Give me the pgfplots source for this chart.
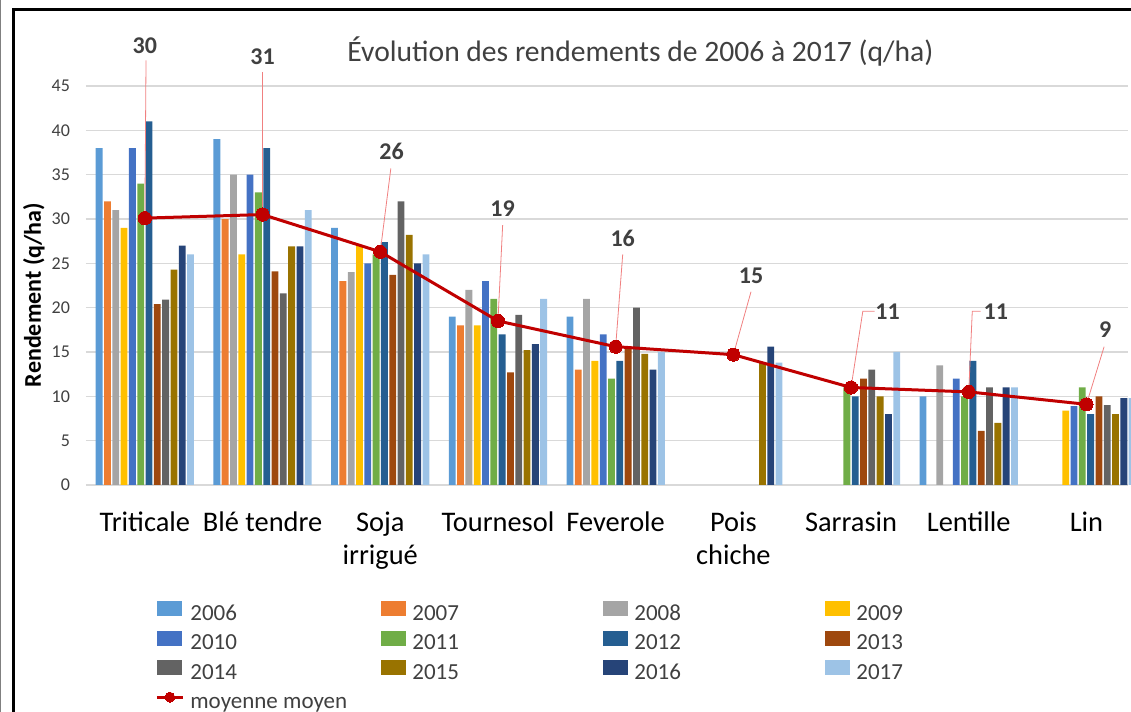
\documentclass[border=0pt]{standalone}
\usepackage{fontspec}
\setmainfont{Carlito}
\usepackage{pgfplots}
\pgfplotsset{compat=1.18}
\definecolor{c06}{HTML}{5B9BD5}
\definecolor{c07}{HTML}{ED7D31}
\definecolor{c08}{HTML}{A5A5A5}
\definecolor{c09}{HTML}{FFC000}
\definecolor{c10}{HTML}{4472C4}
\definecolor{c11}{HTML}{70AD47}
\definecolor{c12}{HTML}{255E91}
\definecolor{c13}{HTML}{9E480E}
\definecolor{c14}{HTML}{636363}
\definecolor{c15}{HTML}{997300}
\definecolor{c16}{HTML}{264478}
\definecolor{c17}{HTML}{9DC3E6}
\definecolor{meanc}{HTML}{C00000}
\definecolor{leadc}{HTML}{F08080}
\definecolor{gridc}{HTML}{D9D9D9}
\definecolor{tickc}{HTML}{404040}
\pgfplotsset{
  bars/.style={ybar, draw=none, bar width=0.058,
    legend image code/.code={\fill[##1,draw=none] (0pt,-3.75pt) rectangle (12.5pt,3.75pt);}},
  meanline/.style={color=meanc, line width=1.5pt, mark=*, mark size=3.3pt,
    mark options={fill=meanc, draw=meanc, line width=0pt},
    legend image code/.code={\draw[mark repeat=2,mark phase=2,##1,mark size=2.5pt] plot coordinates {(0pt,0pt)(6.5pt,0pt)(13pt,0pt)};}},
}
\tikzset{callout/.style={font=\bfseries\fontsize{12}{14}\selectfont, text=tickc, anchor=center}}
\newcommand{\legent}[1]{\makebox[98.5pt][l]{\hspace{3pt}#1\rule[-5.25pt]{0pt}{18.5pt}}}
\begin{document}
\begin{tikzpicture}[x=1pt,y=1pt]
\useasboundingbox (-43,-113.5) rectangle (522.5,242.5);
\begin{axis}[
  at={(0,0)}, anchor=south west,
  scale only axis, width=521pt, height=199.5pt,
  xmin=-0.5, xmax=8.353, ymin=0, ymax=45,
  axis lines*=left,
  y axis line style={draw=none},
  x axis line style={draw=gridc, line width=0.75pt},
  major tick length=0pt,
  ytick={0,5,...,45},
  ymajorgrids, grid style={draw=gridc, line width=0.75pt},
  xtick={0,1,2,3,4,5,6,7,8},
  xticklabels={Triticale,Blé tendre,{Soja\\irrigué},Tournesol,Feverole,{Pois\\chiche},Sarrasin,Lentille,Lin},
  xticklabel style={align=center, font=\fontsize{14.2}{16.5}\selectfont, text=black, yshift=-10pt},
  yticklabel style={font=\fontsize{9}{11}\selectfont, text=tickc, xshift=-4.5pt},
  /pgf/number format/assume math mode=true,
  ylabel={Rendement (q/ha)},
  ylabel style={font=\bfseries\fontsize{12}{14}\selectfont, at={(axis description cs:-0.05,0.476)}, anchor=center},
  title={Évolution des rendements de 2006 à 2017 (q/ha)},
  title style={font=\fontsize{14.8}{17}\selectfont, text=tickc, at={(axis description cs:0.532,1.002)}, anchor=south},
  clip=false,
  legend columns=4, legend cell align=left,
  legend style={draw=none, fill=none, at={(axis description cs:0.0662,-0.2719)}, anchor=north west,
    inner sep=0pt, nodes={inner sep=0pt}, font=\fontsize{11.5}{13}\selectfont, text=tickc,
    /tikz/every even column/.append style={column sep=0pt}},
]
\addplot[bars, fill=c06, bar shift=-0.3883] coordinates {(0,38)(1,39)(2,29)(3,19)(4,19)(7,10)};
\addlegendentry{\legent{2006}}
\addplot[bars, fill=c07, bar shift=-0.3177] coordinates {(0,32)(1,30)(2,23)(3,18)(4,13)};
\addlegendentry{\legent{2007}}
\addplot[bars, fill=c08, bar shift=-0.2471] coordinates {(0,31)(1,35)(2,24)(3,22)(4,21)(7,13.5)};
\addlegendentry{\legent{2008}}
\addplot[bars, fill=c09, bar shift=-0.1765] coordinates {(0,29)(1,26)(2,27)(3,18)(4,14)(8,8.4)};
\addlegendentry{\legent{2009}}
\addplot[bars, fill=c10, bar shift=-0.1059] coordinates {(0,38)(1,35)(2,25)(3,23)(4,17)(7,12)(8,8.9)};
\addlegendentry{\legent{2010}}
\addplot[bars, fill=c11, bar shift=-0.0353] coordinates {(0,34)(1,33)(2,26)(3,21)(4,12)(6,11)(7,10)(8,11)};
\addlegendentry{\legent{2011}}
\addplot[bars, fill=c12, bar shift=0.0353] coordinates {(0,41)(1,38)(2,27.4)(3,17)(4,14)(6,10)(7,14)(8,8)};
\addlegendentry{\legent{2012}}
\addplot[bars, fill=c13, bar shift=0.1059] coordinates {(0,20.4)(1,24.1)(2,23.7)(3,12.7)(4,15.6)(6,12)(7,6.1)(8,10)};
\addlegendentry{\legent{2013}}
\addplot[bars, fill=c14, bar shift=0.1765] coordinates {(0,20.9)(1,21.6)(2,32)(3,19.2)(4,20)(6,13)(7,11)(8,9)};
\addlegendentry{\legent{2014}}
\addplot[bars, fill=c15, bar shift=0.2471] coordinates {(0,24.3)(1,26.9)(2,28.2)(3,15.2)(4,14.8)(5,13.8)(6,10)(7,7)(8,8)};
\addlegendentry{\legent{2015}}
\addplot[bars, fill=c16, bar shift=0.3177] coordinates {(0,27)(1,26.9)(2,25)(3,15.9)(4,13)(5,15.6)(6,8)(7,11)(8,9.8)};
\addlegendentry{\legent{2016}}
\addplot[bars, fill=c17, bar shift=0.3883] coordinates {(0,26)(1,31)(2,26)(3,21)(4,15)(5,13.8)(6,15)(7,11)(8,9.8)};
\addlegendentry{\legent{2017}}
\draw[leadc, line width=0.4pt] (axis cs:0.01,47.9) -- (axis cs:0,30.1);
\draw[leadc, line width=0.4pt] (axis cs:1,46.6) -- (axis cs:1,30.5);
\draw[leadc, line width=0.4pt] (axis cs:2.09,35.7) -- (axis cs:2,26.3);
\draw[leadc, line width=0.4pt] (axis cs:3.04,29.3) -- (axis cs:3,18.5);
\draw[leadc, line width=0.4pt] (axis cs:4.06,26.0) -- (axis cs:4,15.6);
\draw[leadc, line width=0.4pt] (axis cs:5.15,21.8) -- (axis cs:5,14.7);
\draw[leadc, line width=0.4pt] (axis cs:6.2,19.6) -- (axis cs:6.1,19.6) -- (axis cs:6,11.0);
\draw[leadc, line width=0.4pt] (axis cs:7.1,19.6) -- (axis cs:7.03,19.6) -- (axis cs:7,10.5);
\draw[leadc, line width=0.4pt] (axis cs:8.15,15.6) -- (axis cs:8,9.1);
\addplot[meanline] coordinates {(0,30.1)(1,30.5)(2,26.3)(3,18.5)(4,15.6)(5,14.7)(6,11.0)(7,10.5)(8,9.1)};
\addlegendentry{\legent{moyenne moyen}}
\node[callout] at (axis cs:0,49.6) {30};
\node[callout] at (axis cs:1,48.25) {31};
\node[callout] at (axis cs:2.096,37.6) {26};
\node[callout] at (axis cs:3.04,31.2) {19};
\node[callout] at (axis cs:4.06,27.8) {16};
\node[callout] at (axis cs:5.15,23.6) {15};
\node[callout] at (axis cs:6.31,19.5) {11};
\node[callout] at (axis cs:7.23,19.5) {11};
\node[callout] at (axis cs:8.16,17.5) {9};
\end{axis}
\draw[black, line width=1.5pt] (-36,-120) -- (-36,237.5) -- (530,237.5);
\draw[gray, line width=0.6pt] (-42.7,-120) -- (-42.7,245);
\end{tikzpicture}
\end{document}
